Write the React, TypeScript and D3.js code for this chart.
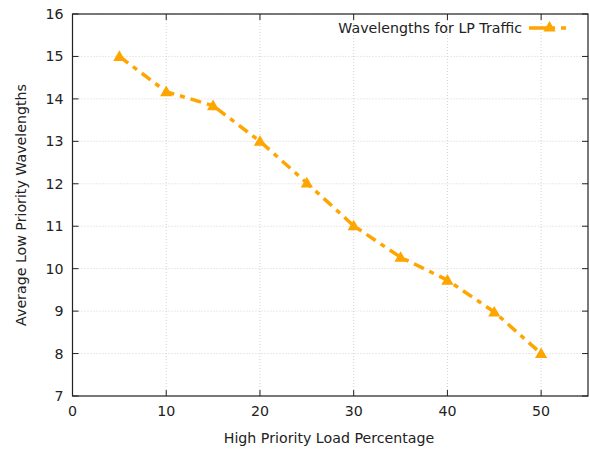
import { useEffect, useRef } from "react";
import * as d3 from "d3";

const loadPct = [5, 10, 15, 20, 25, 30, 35, 40, 45, 50];
const lpWavelengths = [15.0, 14.17, 13.84, 13.0, 12.02, 11.01, 10.27, 9.73, 8.98, 8.0];
const xTicks = [0, 10, 20, 30, 40, 50];
const yTicks = [7, 8, 9, 10, 11, 12, 13, 14, 15, 16];
const seriesLabel = "Wavelengths for LP Traffic";

const W = 590;
const H = 451;
const ORANGE = "#ffa500";
const FONT = "'DejaVu Sans', sans-serif";
const FS = 14.2;

export default function App() {
  const svgRef = useRef<SVGSVGElement>(null);

  useEffect(() => {
    if (!svgRef.current) return;
    const svg = d3.select(svgRef.current);
    svg.selectAll("*").remove();

    const L = 72.5, R = 588, T = 14, B = 396;
    const x = d3.scaleLinear().domain([0, 55]).range([L, R]);
    const y = d3.scaleLinear().domain([7, 16]).range([B, T]);

    // ── grid ──
    const grid = svg.append("g");
    xTicks.forEach(t => {
      grid.append("line")
        .attr("x1", x(t)).attr("x2", x(t)).attr("y1", T).attr("y2", B)
        .attr("stroke", "#c8c8c8").attr("stroke-width", 0.8)
        .attr("stroke-dasharray", "1,2");
    });
    yTicks.forEach(t => {
      grid.append("line")
        .attr("x1", L).attr("x2", R).attr("y1", y(t)).attr("y2", y(t))
        .attr("stroke", "#c8c8c8").attr("stroke-width", 0.8)
        .attr("stroke-dasharray", "1,2");
    });

    // ── ticks (inward, mirrored) ──
    const tk = svg.append("g").attr("stroke", "#222").attr("stroke-width", 1);
    xTicks.forEach(t => {
      tk.append("line").attr("x1", x(t)).attr("x2", x(t)).attr("y1", B).attr("y2", B - 6);
      tk.append("line").attr("x1", x(t)).attr("x2", x(t)).attr("y1", T).attr("y2", T + 6);
    });
    yTicks.forEach(t => {
      tk.append("line").attr("x1", L).attr("x2", L + 6).attr("y1", y(t)).attr("y2", y(t));
      tk.append("line").attr("x1", R).attr("x2", R - 6).attr("y1", y(t)).attr("y2", y(t));
    });

    // ── frame ──
    svg.append("rect")
      .attr("x", L).attr("y", T).attr("width", R - L).attr("height", B - T)
      .attr("fill", "none").attr("stroke", "#222").attr("stroke-width", 1.2);

    // ── tick labels ──
    xTicks.forEach(t => {
      svg.append("text")
        .attr("x", x(t)).attr("y", B + 20)
        .attr("text-anchor", "middle")
        .attr("font-family", FONT).attr("font-size", FS).attr("fill", "#222")
        .text(t);
    });
    yTicks.forEach(t => {
      svg.append("text")
        .attr("x", L - 9).attr("y", y(t))
        .attr("text-anchor", "end").attr("dominant-baseline", "central")
        .attr("font-family", FONT).attr("font-size", FS).attr("fill", "#222")
        .text(t);
    });

    // ── axis titles ──
    svg.append("text")
      .attr("x", 329).attr("y", 443)
      .attr("text-anchor", "middle")
      .attr("font-family", FONT).attr("font-size", FS).attr("fill", "#222")
      .text("High Priority Load Percentage");
    svg.append("text")
      .attr("transform", `translate(26,${(T + B) / 2}) rotate(-90)`)
      .attr("text-anchor", "middle")
      .attr("font-family", FONT).attr("font-size", FS).attr("fill", "#222")
      .text("Average Low Priority Wavelengths");

    // ── series ──
    const pts = loadPct.map((d, i) => [x(d), y(lpWavelengths[i])] as [number, number]);
    const line = d3.line();
    svg.append("path")
      .attr("d", line(pts))
      .attr("fill", "none")
      .attr("stroke", ORANGE).attr("stroke-width", 3.5)
      .attr("stroke-dasharray", "11,6,5,6");

    const tri = d3.symbol().type(d3.symbolTriangle).size(65);
    pts.forEach(p => {
      svg.append("path")
        .attr("d", tri())
        .attr("transform", `translate(${p[0]},${p[1] + 1})`)
        .attr("fill", ORANGE);
    });

    // ── legend ──
    const ly = 28;
    svg.append("text")
      .attr("x", 522).attr("y", ly)
      .attr("text-anchor", "end").attr("dominant-baseline", "central")
      .attr("font-family", FONT).attr("font-size", FS).attr("fill", "#222")
      .text(seriesLabel);
    svg.append("path")
      .attr("d", line([[529, ly], [570, ly]]))
      .attr("stroke", ORANGE).attr("stroke-width", 3.5)
      .attr("stroke-dasharray", "26,6,5,6");
    svg.append("path")
      .attr("d", tri())
      .attr("transform", `translate(549.5,${ly})`)
      .attr("fill", ORANGE);
  }, []);

  return (
    <svg ref={svgRef} width={W} height={H}
      style={{ position: "absolute", left: 0, top: 0, background: "white" }} />
  );
}
